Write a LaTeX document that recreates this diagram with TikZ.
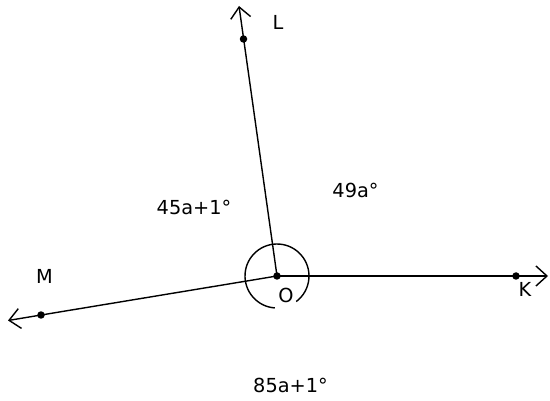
\documentclass[tikz,border=0pt]{standalone}
\usepackage{fontspec}
\setmainfont{DejaVu Sans}
\usetikzlibrary{arrows.meta,positioning}
\tikzset{
  ray/.style={-{Straight Barb[length=2.2mm, width=4mm]}, line width=0.8pt, black},
  pt/.style={circle, fill=black, inner sep=0pt, minimum size=1.5mm},
  ptlabel/.style={font=\fontsize{11}{13}\selectfont, inner sep=0pt},
  anglabel/.style={font=\fontsize{11}{13}\selectfont, inner sep=0pt},
  anglemark/.style={line width=0.8pt, black}
}
\begin{document}
\begin{tikzpicture}[x=0.02cm, y=-0.02cm]
  \useasboundingbox (0,0) rectangle (550,401);
  % vertex and points on the rays
  \node[pt] (O) at (277,276) {};
  \node[pt] (L) at (243.5,39) {};
  \node[pt] (M) at (41,315) {};
  \node[pt] (K) at (516,276) {};
  \coordinate (Lend) at (239,6);
  \coordinate (Mend) at (8,320.5);
  \coordinate (Kend) at (548,276);
  \draw[ray] (O.center) -- (Lend);
  \draw[ray] (O.center) -- (Mend);
  \draw[ray] (O.center) -- (Kend);
  % angle mark
  \draw[anglemark] (O.center) ++(94:32) arc[start angle=94, end angle=413, radius=32];
  % point names
  \node[ptlabel] (nL) at (278,22) {L};
  \node[ptlabel] (nM) at (44.5,276.5) {M};
  \node[ptlabel] (nK) at (525,289) {K};
  \node[ptlabel] (nO) at (286,295) {O};
  % angle sizes
  \node[anglabel] (aLM) at (194,207) {45a+1°};
  \node[anglabel] (aLK) at (355.5,190.5) {49a°};
  \node[anglabel] (aMK) at (290.5,385.5) {85a+1°};
\end{tikzpicture}
\end{document}
